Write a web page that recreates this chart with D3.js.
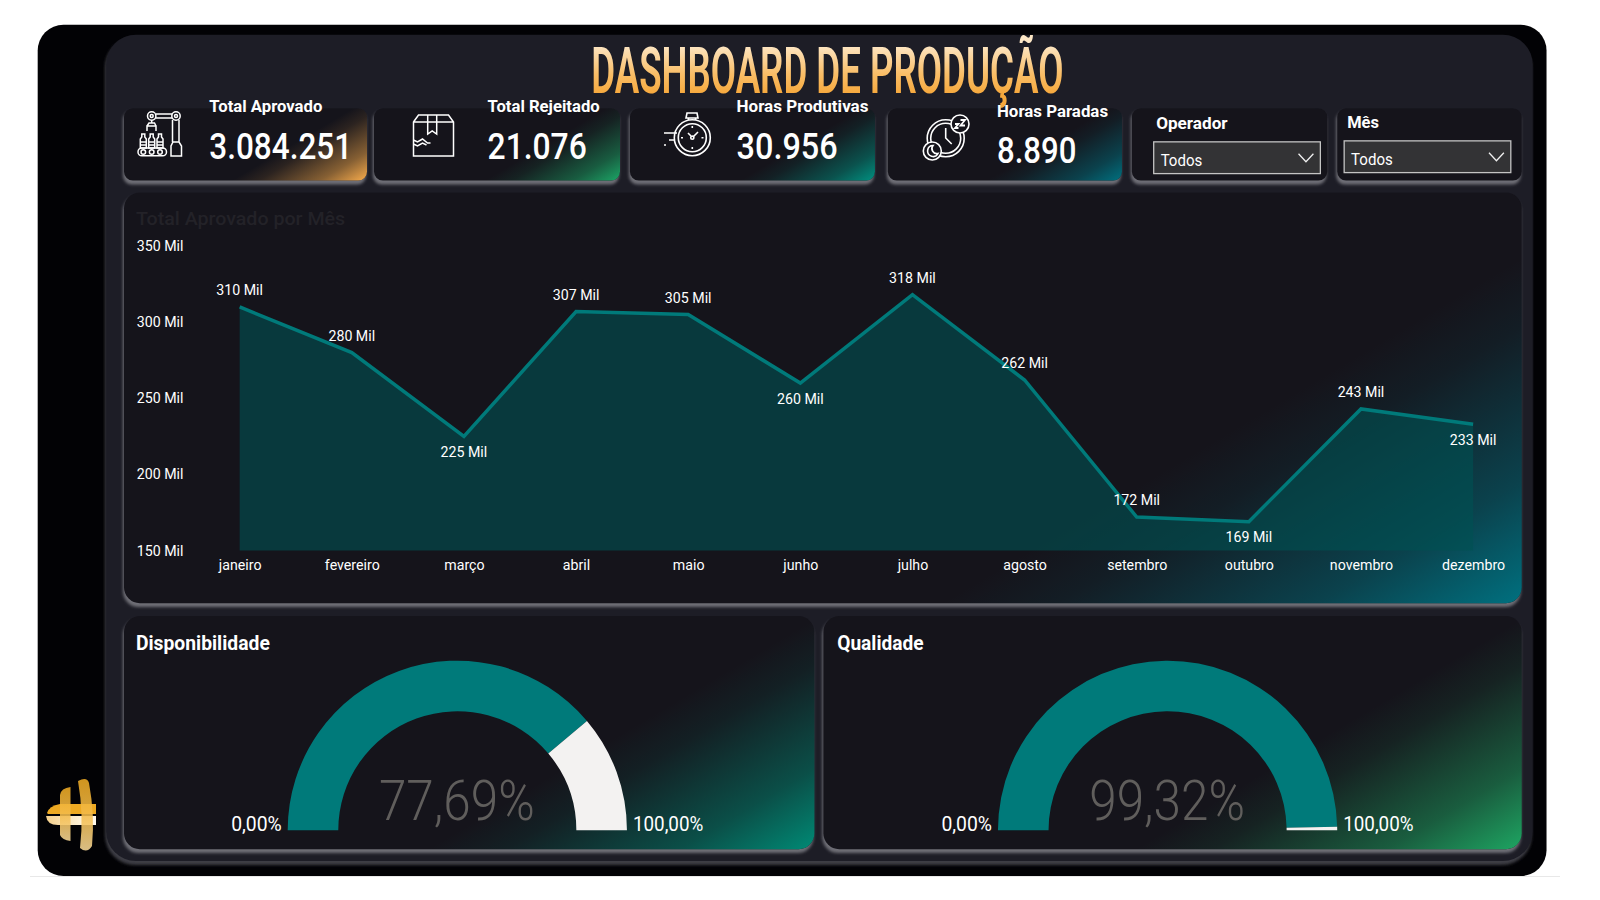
<!DOCTYPE html>
<html>
<head>
<meta charset="utf-8">
<script src="https://cdn.jsdelivr.net/npm/d3@7"></script>
<style>
    html, body { margin: 0; background: #fff; }
    svg { display: block; }
    text { font-family: Roboto, "Noto Sans", sans-serif; }
</style>
</head>
<body>
<div id="chart"></div>
<script>
// chart data
const months = ["janeiro", "fevereiro", "março", "abril", "maio", "junho", "julho", "agosto", "setembro", "outubro", "novembro", "dezembro"];
const approved = [310, 280, 225, 307, 305, 260, 318, 262, 172, 169, 243, 233];
const labelsBelow = ["março", "junho", "outubro", "dezembro"];
const yTicks = [150, 200, 250, 300, 350];

const kpiLabels = ["Total Aprovado", "Total Rejeitado", "Horas Produtivas", "Horas Paradas"];
const kpiValues = ["3.084.251", "21.076", "30.956", "8.890"];
const slicerLabels = ["Operador", "Mês"];
const gaugeNames = ["Disponibilidade", "Qualidade"];
const gaugeValues = [77.69, 99.32];
const gaugeTexts = ["77,69%", "99,32%"];

const svg = d3.select("#chart").append("svg").attr("width", 1600).attr("height", 900);
const defs = svg.append("defs");
const root = svg.append("g").attr("transform", "scale(0.992)");

defs.append("filter").attr("id", "glow")
    .attr("x", "-5%").attr("y", "-10%").attr("width", "110%").attr("height", "125%")
    .append("feGaussianBlur").attr("stdDeviation", 1.5);

// corner fade, same angle on every card
function cornerGradient(id, x2, y2, len, color) {
    let g = defs.append("linearGradient").attr("id", id)
        .attr("gradientUnits", "userSpaceOnUse")
        .attr("x1", x2 - len * 0.51).attr("y1", y2 - len * 0.857)
        .attr("x2", x2).attr("y2", y2);
    [[0, 0], [0.2, 0.1], [0.65, 0.5], [1, 1]].forEach(s => {
        g.append("stop").attr("offset", s[0]).attr("stop-color", color).attr("stop-opacity", s[1]);
    });
}

function card(x1, y1, x2, y2, r, gradId, fill = "#15141b", bevel = "#6e6e76") {
    // the lighter rect behind gives the bevel on the bottom edge
    root.append("rect").attr("x", x1 - 1).attr("y", y1 + 3).attr("width", x2 - x1).attr("height", y2 - y1 + 1)
        .attr("rx", r).attr("fill", bevel).attr("filter", "url(#glow)");
    root.append("rect").attr("x", x1).attr("y", y1).attr("width", x2 - x1).attr("height", y2 - y1)
        .attr("rx", r).attr("fill", fill);
    if (gradId) {
        root.append("rect").attr("x", x1).attr("y", y1).attr("width", x2 - x1).attr("height", y2 - y1)
            .attr("rx", r).attr("fill", `url(#${gradId})`);
    }
}

function label(str, x, y, size, width, opts = {}) {
    let t = root.append("text").attr("x", x).attr("y", y)
        .attr("font-size", size)
        .attr("font-weight", opts.weight || 500)
        .attr("fill", opts.fill || "#fff")
        .text(str);
    if (width) t.attr("textLength", width).attr("lengthAdjust", "spacingAndGlyphs");
    return t;
}

// background
svg.append("line").attr("x1", 30).attr("x2", 1560).attr("y1", 876.5).attr("y2", 876.5).attr("stroke", "#e8e8e8");
root.append("rect").attr("x", 38).attr("y", 25).attr("width", 1521).attr("height", 858).attr("rx", 26).attr("fill", "#020205");
card(107, 35, 1545, 868, 30, null, "#1d1d26", "#3c3c44");

// title
let titleGrad = defs.append("linearGradient").attr("id", "titleGrad")
    .attr("gradientUnits", "userSpaceOnUse").attr("x1", 0).attr("x2", 0).attr("y1", 45).attr("y2", 95);
titleGrad.append("stop").attr("offset", 0).attr("stop-color", "#fde7c6");
titleGrad.append("stop").attr("offset", 0.6).attr("stop-color", "#f9bd66");
titleGrad.append("stop").attr("offset", 1).attr("stop-color", "#f6a83c");
label("DASHBOARD DE PRODUÇÃO", 596, 94, 65, 476, { fill: "url(#titleGrad)", weight: 600 });

// KPI cards
const kpiBoxes = [[125, 370], [377, 625], [635, 882], [895, 1131]];
const kpiColors = ["#f8ac4c", "#1ca566", "#009080", "#00707f"];
const kpiText = [
    { x: 211, lw: 114, vw: 144, ly: 113, vy: 160 },
    { x: 491.5, lw: 113, vw: 100, ly: 113, vy: 160 },
    { x: 742.5, lw: 133, vw: 102, ly: 113, vy: 160 },
    { x: 1005, lw: 112, vw: 80, ly: 118, vy: 164 }
];
kpiBoxes.forEach((b, i) => {
    cornerGradient("kpi" + i, b[1], 182, 70, kpiColors[i]);
    card(b[0], 109, b[1], 182, 9, "kpi" + i);
    label(kpiLabels[i], kpiText[i].x, kpiText[i].ly, 16.5, kpiText[i].lw, { weight: 700 });
    label(kpiValues[i], kpiText[i].x, kpiText[i].vy, 37, kpiText[i].vw, { weight: 500 });
});

// slicers
const slicerBoxes = [
    { x1: 1141, x2: 1338, lx: 1165.5, lw: 72, ly: 130, bx: 1163, by: 143 },
    { x1: 1348, x2: 1534, lx: 1358, lw: 32, ly: 129, bx: 1355, by: 142 }
];
slicerBoxes.forEach((s, i) => {
    card(s.x1, 109, s.x2, 182, 9);
    label(slicerLabels[i], s.lx, s.ly, 17, s.lw, { weight: 700 });
    root.append("rect").attr("x", s.bx).attr("y", s.by).attr("width", 168).attr("height", 32)
        .attr("fill", "#333335").attr("stroke", "#c4c4c4").attr("stroke-width", 1.3);
    label("Todos", s.bx + 7, s.by + 24, 16.5, 42, { weight: 400 });
    root.append("path").attr("d", `M${s.bx + 146},${s.by + 12}l7.5,8l7.5,-8`)
        .attr("fill", "none").attr("stroke", "#f0f0f0").attr("stroke-width", 1.3);
});

// main chart
cornerGradient("chartGrad", 1534, 608, 300, "#00707f");
card(125, 194, 1534, 608, 16, "chartGrad");
label("Total Aprovado por Mês", 137, 227, 18, 211, { fill: "#232228", weight: 500 });

const x = d3.scalePoint().domain(months).range([241.6, 1485]);
const y = d3.scaleLinear().domain([150, 350]).range([555, 248]);

const area = d3.area().x((d, i) => x(months[i])).y0(y(150)).y1(d => y(d));
const line = d3.line().x((d, i) => x(months[i])).y(d => y(d));

root.append("path").datum(approved).attr("d", area).attr("fill", "#005053").attr("opacity", 0.62);
root.append("path").datum(approved).attr("d", line).attr("fill", "none").attr("stroke", "#007a7a").attr("stroke-width", 3.5);

const yAxis = root.append("g").attr("transform", "translate(188,0)")
    .call(d3.axisLeft(y).tickValues(yTicks).tickSize(0).tickFormat(d => d + " Mil"));
const xAxis = root.append("g").attr("transform", "translate(0,561)")
    .call(d3.axisBottom(x).tickSize(0));
[yAxis, xAxis].forEach(a => {
    a.select(".domain").remove();
    a.selectAll("text").attr("fill", "#fff").attr("font-size", 14.3).attr("font-family", "Noto Sans");
});

root.selectAll(".point-label").data(approved).enter().append("text")
    .attr("class", "point-label")
    .attr("x", (d, i) => x(months[i]))
    .attr("y", (d, i) => y(d) + (labelsBelow.includes(months[i]) ? 21 : -12))
    .attr("text-anchor", "middle")
    .attr("font-size", 14.3)
    .attr("font-family", "Noto Sans")
    .attr("fill", "#fff")
    .text(d => d + " Mil");

// gauges
const gaugeBoxes = [
    { x1: 125, x2: 821, cx: 461, tx: 137, tw: 135, color: "#008a75", vw: 157 },
    { x1: 830, x2: 1534, cx: 1177, tx: 844, tw: 87, color: "#1ea562", vw: 157 }
];
const gaugeScale = d3.scaleLinear().domain([0, 100]).range([-Math.PI / 2, Math.PI / 2]);
const gaugeArc = d3.arc().innerRadius(120).outerRadius(171);

gaugeBoxes.forEach((g, i) => {
    cornerGradient("gauge" + i, g.x2, 856, 200, g.color);
    card(g.x1, 621, g.x2, 856, 16, "gauge" + i);
    label(gaugeNames[i], g.tx, 655, 20, g.tw, { weight: 700 });

    let pie = root.append("g").attr("transform", `translate(${g.cx},837)`);
    pie.append("path").attr("fill", "#007a7a")
        .attr("d", gaugeArc({ startAngle: gaugeScale(0), endAngle: gaugeScale(gaugeValues[i]) }));
    pie.append("path").attr("fill", "#f3f2f1")
        .attr("d", gaugeArc({ startAngle: gaugeScale(gaugeValues[i]), endAngle: gaugeScale(100) }));

    label(gaugeTexts[i], g.cx - 79, 827, 56, g.vw, { fill: "#605e5c", weight: 300 });
    label("0,00%", g.cx - 228, 838, 19.5, 51, { weight: 400 });
    label("100,00%", g.cx + 177, 838, 19.5, 71, { weight: 400 });
});

// line icons, in page pixels
function icon(w = 1.5) {
    return svg.append("g").attr("fill", "none").attr("stroke", "#fff").attr("stroke-width", w);
}

// robot arm
let robot = icon();
robot.append("circle").attr("cx", 151.7).attr("cy", 116).attr("r", 4.2);
robot.append("circle").attr("cx", 151.7).attr("cy", 116).attr("r", 1.5);
robot.append("circle").attr("cx", 176).attr("cy", 116).attr("r", 4.2);
robot.append("circle").attr("cx", 176).attr("cy", 116).attr("r", 1.5);
robot.append("path").attr("d", "M156,114H172M156,118H172M172.5,120V142M179,120V142M171,156V146L173,142H179L181.5,146V156zM151.7,120V123M147,131V126H156V131M147,126L149,123H154.5L156,126");
[143.3, 151.7, 160].forEach(bx => {
    robot.append("path").attr("d", `M${bx - 1.5},134h3v3l1.5,2v9h-6v-9l1.5,-2zM${bx - 3},142h6M${bx - 3},145h6`);
    robot.append("circle").attr("cx", bx).attr("cy", 152).attr("r", 2.3);
});
robot.append("rect").attr("x", 138).attr("y", 148).attr("width", 28.5).attr("height", 7.8).attr("rx", 3.9);

// box
let box = icon();
box.append("path").attr("d", "M413.5,122L418.5,115H448.5L453.5,122V156H413.5zM413.5,122H453.5M427.7,115V134L432.2,131L436.7,134V115M413.5,140l4,2l5,-3l5,4l3,0M413.5,144l4,2l5,-3l4,2");

// stopwatch
let watch = icon(1.6);
watch.append("circle").attr("cx", 692.3).attr("cy", 137.7).attr("r", 18);
watch.append("circle").attr("cx", 692.3).attr("cy", 137.7).attr("r", 14);
watch.append("circle").attr("cx", 692.3).attr("cy", 137.7).attr("r", 1.6);
watch.append("path").attr("d", "M687,113H697L698,118H686zM688.5,118V120M695.5,118V120M691,136L688,133M693.5,136.5L698,132M692.3,126V128M692.3,147V149M681,137.7H683M701.5,137.7H703.5M664,133H677M669,140H674M664,145H666");

// clock
let clock = icon(1.6);
clock.append("circle").attr("cx", 945.7).attr("cy", 138.3).attr("r", 18.5);
clock.append("circle").attr("cx", 945.7).attr("cy", 138.3).attr("r", 15);
clock.append("path").attr("d", "M945.7,128V138L951.7,144");
clock.append("circle").attr("cx", 932.3).attr("cy", 151).attr("r", 9).attr("fill", "#15141b");
clock.append("path").attr("d", "M933,145.5a5.5,5.5 0 1 0 5,8a5,5 0 0 1 -5,-8z");
clock.append("circle").attr("cx", 960).attr("cy", 124).attr("r", 9).attr("fill", "#15141b");
clock.append("path").attr("d", "M955,124h3.5l-3.5,4h3.5M960.5,120h4.5l-4.5,5.5h4.5").attr("stroke-width", 1.8);

// logo
let logoV = defs.append("linearGradient").attr("id", "logoV").attr("x1", 0).attr("x2", 0).attr("y1", 0).attr("y2", 1);
logoV.append("stop").attr("offset", 0).attr("stop-color", "#eda922");
logoV.append("stop").attr("offset", 0.5).attr("stop-color", "#f3bb4a");
logoV.append("stop").attr("offset", 1).attr("stop-color", "#f6d796");
let logoH = defs.append("linearGradient").attr("id", "logoH").attr("x1", 0).attr("x2", 1).attr("y1", 0).attr("y2", 0);
logoH.append("stop").attr("offset", 0).attr("stop-color", "#f5d08c");
logoH.append("stop").attr("offset", 0.7).attr("stop-color", "#fdf1d8");
logoH.append("stop").attr("offset", 1).attr("stop-color", "#fff8ea");
svg.append("path").attr("d", "M47,813Q49,806 60,804H96V814H48z").attr("fill", "#eda922");
svg.append("path").attr("d", "M46,816H96V825H58Q47,825 46,816z").attr("fill", "url(#logoH)");
svg.append("path").attr("d", "M60,795Q61,788 70.5,787V841Q62,840 60,835z").attr("fill", "url(#logoV)").attr("fill-opacity", 0.88);
svg.append("path").attr("d", "M78,781Q87,776 89,783Q95,815 92,846Q87,854 80,848Q84,815 78,781z").attr("fill", "url(#logoV)").attr("fill-opacity", 0.88);
</script>
</body>
</html>
